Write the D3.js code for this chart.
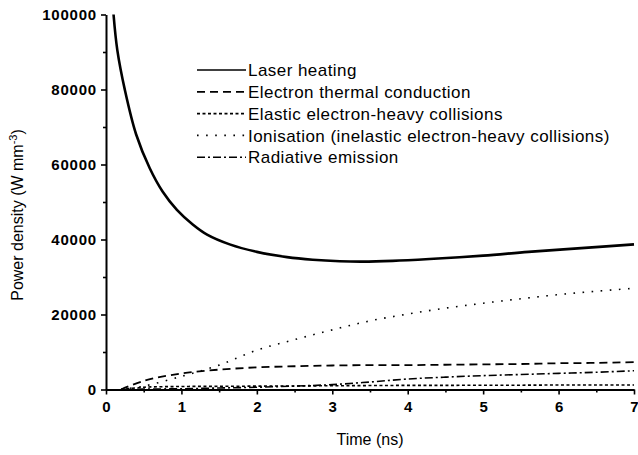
<!DOCTYPE html>
<html><head><meta charset="utf-8">
<script src="https://cdn.jsdelivr.net/npm/d3@7"></script>
<style>body{margin:0;background:#fff}svg{display:block}text{font-family:"Liberation Sans",Arial,sans-serif;fill:#000}</style>
</head><body>
<svg id="c" width="638" height="455"></svg>
<script>
const timeLaser = [0.1,0.15,0.25,0.4,0.58,0.75,0.94,1.15,1.34,1.64,2.0,2.4,2.74,3.1,3.4,3.8,4.29,5.0,5.6,6.3,7.0];
const laserHeating = [100000,90500,79900,68000,59000,52800,47900,44000,41300,38700,36700,35300,34600,34200,34100,34300,34800,35700,36700,37700,38700];
const timeOther = [0.2,0.5,1,1.5,2,2.5,3,3.5,4,4.5,5,5.5,6,6.5,7];
const thermalConduction = [0,2300,4300,5300,5900,6200,6400,6500,6500,6600,6700,6800,7000,7100,7300];
const elasticCollisions = [0,600,800,850,900,950,1000,1050,1100,1100,1150,1150,1200,1200,1200];
const ionisation = [0,900,3500,6500,10500,13300,15900,18300,20100,21700,23000,24200,25300,26200,27000];
const radiativeEmission = [0,100,200,400,600,900,1300,2000,2800,3300,3700,4000,4300,4600,5000];
const seriesNames = ["Laser heating","Electron thermal conduction","Elastic electron-heavy collisions","Ionisation (inelastic electron-heavy collisions)","Radiative emission"];
const xTicks = [0,1,2,3,4,5,6,7];
const yTicks = [0,20000,40000,60000,80000,100000];

const svg = d3.select("#c");
const x = d3.scaleLinear().domain([0,7]).range([106,634]);
const y = d3.scaleLinear().domain([0,100000]).range([389.5,14.5]);

const series = [
  {name:seriesNames[0], t:timeLaser, v:laserHeating, dash:null, w:2.6, lw:1.6},
  {name:seriesNames[1], t:timeOther, v:thermalConduction, dash:"8,5", w:1.8, lw:1.8},
  {name:seriesNames[2], t:timeOther, v:elasticCollisions, dash:"3,2.5", w:1.6, lw:1.6},
  {name:seriesNames[3], t:timeOther, v:ionisation, dash:"1.6,7.5", w:1.6, lw:1.6},
  {name:seriesNames[4], t:timeOther, v:radiativeEmission, dash:"8,3,2,3", w:1.6, lw:1.6}
];

const line = d3.line().x(d=>x(d[0])).y(d=>y(d[1])).curve(d3.curveCatmullRom.alpha(0.5));
series.forEach(s=>{
  svg.append("path").datum(s.t.map((t,i)=>[t,s.v[i]]))
    .attr("d",line).attr("fill","none").attr("stroke","#000")
    .attr("stroke-width",s.w).attr("stroke-dasharray",s.dash);
});

// axes
const xAxis = svg.append("g").attr("transform","translate(0,389.5)")
  .call(d3.axisBottom(x).tickValues(xTicks).tickFormat(d3.format("d")).tickSize(5).tickSizeOuter(0));
svg.append("g").attr("transform","translate(0,389.5)")
  .call(d3.axisBottom(x).tickValues(d3.range(0.5,7,1)).tickFormat("").tickSize(3).tickSizeOuter(0))
  .select(".domain").remove();
const yAxis = svg.append("g").attr("transform","translate(106,0)")
  .call(d3.axisLeft(y).tickValues(yTicks).tickFormat(d3.format("d")).tickSize(5).tickSizeOuter(0));
svg.append("g").attr("transform","translate(106,0)")
  .call(d3.axisLeft(y).tickValues(d3.range(10000,100000,20000)).tickFormat("").tickSize(3).tickSizeOuter(0))
  .select(".domain").remove();
svg.selectAll(".domain").attr("stroke-width",2);
svg.selectAll(".tick line").attr("stroke-width",1.6);
xAxis.selectAll("text").attr("font-size",15).attr("font-weight","bold").attr("dy","0.95em");
yAxis.selectAll("text").attr("font-size",15).attr("font-weight","bold").attr("letter-spacing","0.8px").attr("dx","-1px");

svg.append("text").attr("x",370).attr("y",445).attr("text-anchor","middle")
  .attr("font-size",16).text("Time (ns)");
const yl = svg.append("text").attr("transform","translate(23,215) rotate(-90)")
  .attr("text-anchor","middle").attr("font-size",16);
yl.append("tspan").text("Power density (W mm");
yl.append("tspan").attr("font-size",11).attr("dy",-6).text("-3");
yl.append("tspan").attr("dy",6).text(")");

// legend
const lg = svg.append("g");
series.forEach((s,i)=>{
  const yy = 70 + i*21.8;
  lg.append("line").attr("x1",197).attr("x2",246).attr("y1",yy).attr("y2",yy)
    .attr("stroke","#000").attr("stroke-width",s.lw).attr("stroke-dasharray",s.dash);
  lg.append("text").attr("x",248).attr("y",yy).attr("dy","0.36em").attr("font-size",17)
    .attr("letter-spacing","0.45px").text(s.name);
});
</script>
</body></html>
